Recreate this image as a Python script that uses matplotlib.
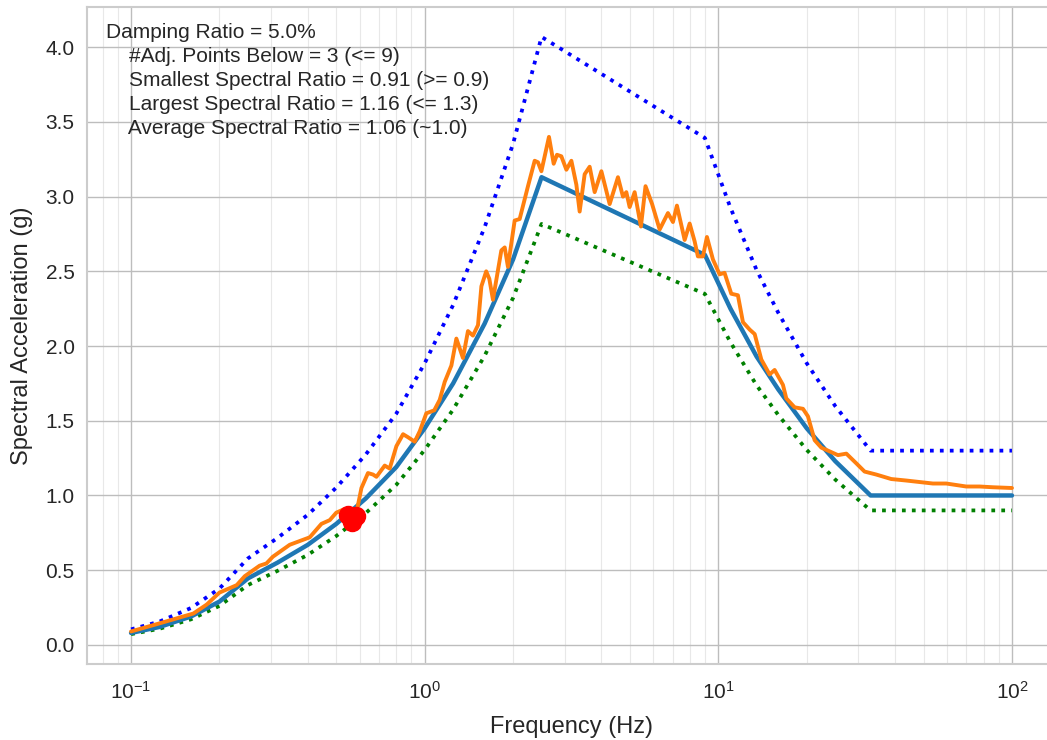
import matplotlib
matplotlib.use("Agg")
import matplotlib.pyplot as plt
import matplotlib.ticker as ticker
import numpy as np
import seaborn as sns

sns.set_style("whitegrid")
plt.rcParams['font.family'] = ['Liberation Sans', 'DejaVu Sans']

# target spectrum (g) at its control frequencies
target_freq = [0.1, 0.125, 0.16, 0.2, 0.25, 0.315, 0.4, 0.5, 0.63, 0.8,
               1.0, 1.25, 1.6, 2.0, 2.5, 9.0, 11.0, 13.5, 16.0, 20.0,
               25.0, 33.0, 100.0]
target_sa = [0.08, 0.12, 0.19, 0.29, 0.445, 0.55, 0.67, 0.81, 0.98, 1.19,
             1.45, 1.75, 2.15, 2.58, 3.13, 2.61, 2.25, 1.93, 1.71, 1.45,
             1.23, 1.00, 1.00]
upper_factor = 1.3
lower_factor = 0.9

# spectrum of the matched time history
calc_freq = [0.100, 0.128, 0.163, 0.181, 0.200, 0.217, 0.229, 0.244, 0.274, 0.289,
             0.304, 0.347, 0.406, 0.445, 0.475, 0.500, 0.527, 0.547, 0.564, 0.582,
             0.609, 0.641, 0.667, 0.685, 0.731, 0.760, 0.801, 0.844, 0.877, 0.925,
             0.962, 1.013, 1.078, 1.125, 1.170, 1.233, 1.282, 1.350, 1.404, 1.460,
             1.519, 1.560, 1.620, 1.660, 1.708, 1.824, 1.873, 1.921, 2.025, 2.106,
             2.248, 2.369, 2.431, 2.497, 2.650, 2.750, 2.822, 2.920, 3.038, 3.159,
             3.285, 3.371, 3.506, 3.646, 3.792, 3.997, 4.265, 4.552, 4.734, 4.861,
             4.989, 5.188, 5.450, 5.650, 5.950, 6.312, 6.737, 7.006, 7.228, 7.680,
             7.987, 8.306, 8.520, 8.863, 9.146, 9.585, 10.10, 10.50, 11.07, 11.66,
             12.13, 12.79, 13.30, 14.01, 14.95, 15.55, 16.60, 17.04, 18.19, 19.42,
             20.19, 21.28, 22.43, 24.26, 25.54, 27.29, 29.51, 31.48, 34.51, 38.81,
             43.66, 48.46, 53.79, 59.75, 69.89, 77.58, 86.10, 100.0]
calc_sa = [0.09, 0.15, 0.21, 0.27, 0.35, 0.38, 0.40, 0.46, 0.53, 0.545,
           0.59, 0.67, 0.72, 0.81, 0.835, 0.885, 0.905, 0.87, 0.82, 0.86,
           1.05, 1.15, 1.14, 1.125, 1.20, 1.18, 1.33, 1.41, 1.39, 1.36,
           1.43, 1.55, 1.57, 1.64, 1.76, 1.87, 2.05, 1.92, 2.10, 2.07,
           2.14, 2.40, 2.50, 2.45, 2.31, 2.64, 2.66, 2.53, 2.84, 2.85,
           3.07, 3.24, 3.23, 3.17, 3.40, 3.22, 3.28, 3.27, 3.18, 3.24,
           3.08, 2.90, 3.15, 3.20, 3.03, 3.17, 2.95, 3.13, 3.00, 3.03,
           2.93, 3.03, 2.80, 3.07, 2.95, 2.78, 2.89, 2.83, 2.94, 2.71,
           2.82, 2.70, 2.60, 2.60, 2.73, 2.58, 2.48, 2.49, 2.35, 2.34,
           2.16, 2.11, 2.08, 1.91, 1.81, 1.84, 1.74, 1.65, 1.59, 1.58,
           1.53, 1.37, 1.32, 1.29, 1.27, 1.28, 1.215, 1.16, 1.14, 1.11,
           1.10, 1.09, 1.08, 1.08, 1.06, 1.06, 1.055, 1.05]

# adjacent points falling below the target
below_idx = [17, 18, 19]

info = ["Damping Ratio = 5.0%",
        "    #Adj. Points Below = 3 (<= 9)",
        "    Smallest Spectral Ratio = 0.91 (>= 0.9)",
        "    Largest Spectral Ratio = 1.16 (<= 1.3)",
        "    Average Spectral Ratio = 1.06 (~1.0)"]

target = np.array(target_sa)
calc_f = np.array(calc_freq)
calc = np.array(calc_sa)

fig = plt.figure(figsize=(10.47, 7.40), dpi=100)
ax = fig.add_axes([0.0831, 0.1027, 0.9255, 0.8878])

ax.plot(target_freq, target, color='#1f77b4', lw=3.2, zorder=3)
ax.plot(target_freq, target * upper_factor, ':', color='b', lw=2.7, zorder=2)
ax.plot(target_freq, target * lower_factor, ':', color='g', lw=2.7, zorder=2)
ax.plot(calc_f, calc, color='#ff7f0e', lw=2.8, zorder=4)
ax.plot(calc_f[below_idx], calc[below_idx], 'o', color='r', ms=13, zorder=5)

ax.set_xscale('log')
ax.yaxis.set_major_locator(ticker.MultipleLocator(0.5))
ax.yaxis.set_major_formatter(ticker.FormatStrFormatter('%.1f'))

ax.grid(True, which='major', color='#bdbdbd', lw=1.0)
ax.grid(True, which='minor', color='#e8e8e8', lw=0.8)
for s in ax.spines.values():
    s.set_color('#cccccc')
    s.set_linewidth(1.5)

ax.tick_params(axis='both', which='both', length=0, labelsize=15,
               labelcolor='#262626', pad=9)
ax.tick_params(axis='x', pad=12)
ax.set_xlabel("Frequency (Hz)", fontsize=17, color='#262626', labelpad=10)
ax.set_ylabel("Spectral Acceleration (g)", fontsize=17, color='#262626', labelpad=9)

ax.text(0.02, 0.976, "\n".join(info), transform=ax.transAxes, fontsize=15,
        color='#262626', va='top', ha='left', linespacing=1.33)

plt.savefig("out.png", dpi=100)
plt.close(fig)
